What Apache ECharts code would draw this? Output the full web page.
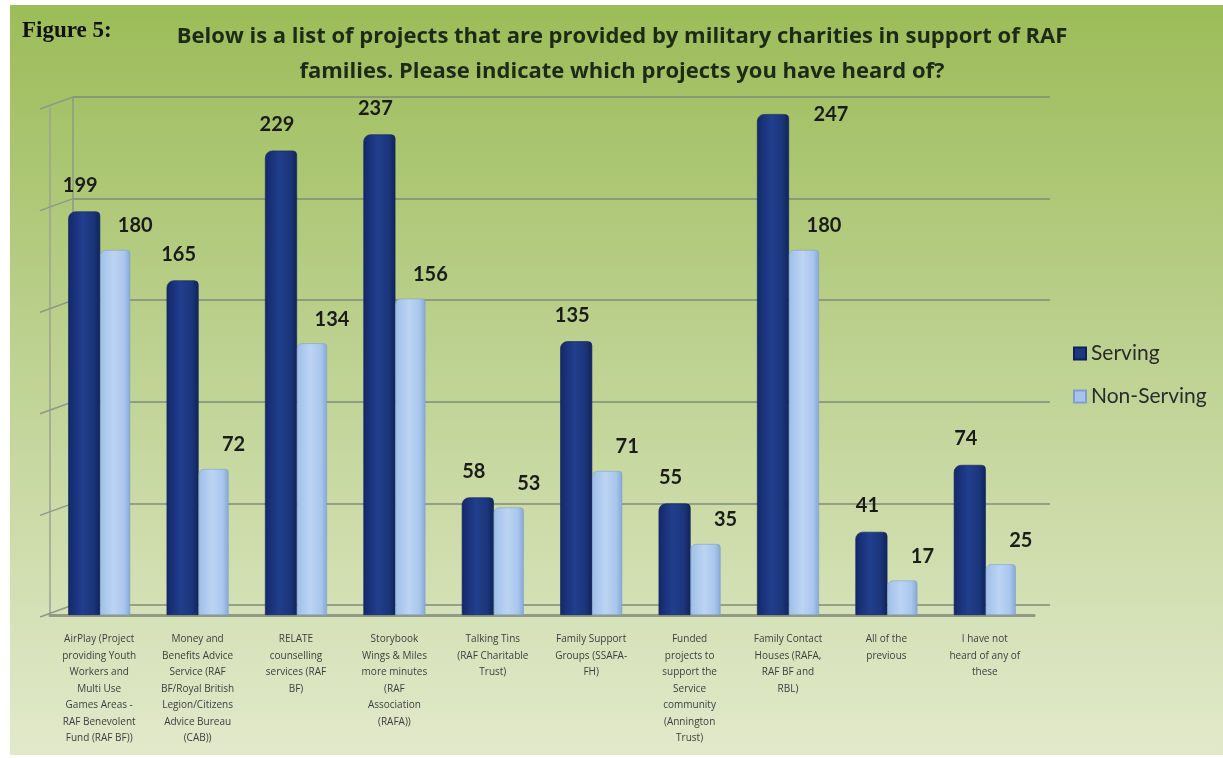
<!DOCTYPE html>
<html>
<head>
<meta charset="utf-8">
<script src="https://cdn.jsdelivr.net/npm/echarts@6/dist/echarts.min.js"></script>
<style>
  html, body { margin: 0; padding: 0; background: #ffffff; }
  #chart { width: 1223px; height: 758px; }
</style>
</head>
<body>
<div id="chart"></div>
<script>
// Awareness of military charity projects, Serving vs Non-Serving RAF families
const categories = [
  'AirPlay (Project\nproviding Youth\nWorkers and\nMulti Use\nGames Areas -\nRAF Benevolent\nFund (RAF BF))',
  'Money and\nBenefits Advice\nService (RAF\nBF/Royal British\nLegion/Citizens\nAdvice Bureau\n(CAB))',
  'RELATE\ncounselling\nservices (RAF\nBF)',
  'Storybook\nWings & Miles\nmore minutes\n(RAF\nAssociation\n(RAFA))',
  'Talking Tins\n(RAF Charitable\nTrust)',
  'Family Support\nGroups (SSAFA-\nFH)',
  'Funded\nprojects to\nsupport the\nService\ncommunity\n(Annington\nTrust)',
  'Family Contact\nHouses (RAFA,\nRAF BF and\nRBL)',
  'All of the\nprevious',
  'I have not\nheard of any of\nthese'
];
const serving = [199, 165, 229, 237, 58, 135, 55, 247, 41, 74];
const nonServing = [180, 72, 134, 156, 53, 71, 35, 180, 17, 25];
const valueTicks = [0, 50, 100, 150, 200, 250];

const chart = echarts.init(document.getElementById('chart'));
const G = echarts.graphic;

const darkFill = new G.LinearGradient(0, 0, 1, 0, [
  { offset: 0, color: '#14286a' },
  { offset: 0.45, color: '#213f8e' },
  { offset: 0.8, color: '#1b3579' },
  { offset: 1, color: '#10245c' }
]);
const lightFill = new G.LinearGradient(0, 0, 1, 0, [
  { offset: 0, color: '#9fbfe8' },
  { offset: 0.45, color: '#bcd4f3' },
  { offset: 0.8, color: '#a9c6ec' },
  { offset: 1, color: '#86a8d6' }
]);

const labelFont = { fontFamily: 'Lato, "Open Sans", sans-serif', fontWeight: 'bold', fontSize: 20, color: '#1b1b1b' };

// The tallest Serving bar carries its value beside its top, to the right
const tallest = serving.indexOf(Math.max(...serving));
const servingData = serving.map((v, i) => i === tallest
  ? { value: v, label: { offset: [58, 26] } }
  : v);

const option = {
  animation: false,
  graphic: [
    {
      type: 'rect', z: -10, silent: true,
      shape: { x: 10, y: 5, width: 1213, height: 750 },
      style: {
        fill: new G.LinearGradient(0, 0, 0, 1, [
          { offset: 0, color: '#9cbc58' },
          { offset: 0.45, color: '#bcd18f' },
          { offset: 1, color: '#e2e9cb' }
        ])
      }
    },
    {
      type: 'text', x: 22, y: 20,
      style: { text: 'Figure 5:', font: 'bold 23px "Liberation Serif", serif', fill: '#111111' }
    },
    {
      type: 'text', x: 622, y: 19, z: 10,
      style: {
        text: 'Below is a list of projects that are provided by military charities in support of RAF\nfamilies. Please indicate which projects you have heard of?',
        font: 'bold 22px "Open Sans", Lato, sans-serif',
        fill: '#1e2a18', align: 'center', lineHeight: 35
      }
    }
  ],
  legend: {
    orient: 'vertical',
    left: 1068, top: 338,
    itemWidth: 12, itemHeight: 12, itemGap: 22,
    icon: 'rect',
    textStyle: { fontFamily: 'Lato, "Open Sans", sans-serif', fontSize: 21, color: '#2b2b2b' },
    data: [
      { name: 'Serving', itemStyle: { color: '#1d3782' } },
      { name: 'Non-Serving', itemStyle: { color: '#a7c4ec' } }
    ]
  },
  grid: [
    // front plane carrying the bars
    { left: 50, right: 189, top: 108, bottom: 143 },
    // back wall carrying the gridlines
    { left: 73, right: 173, top: 97, bottom: 153 }
  ],
  xAxis: [
    {
      type: 'category', gridIndex: 0, data: categories,
      axisLine: { show: true, lineStyle: { color: '#8f9a88', width: 3 } },
      axisTick: { show: false },
      axisLabel: {
        interval: 0, margin: 16, fontSize: 10, lineHeight: 16.5,
        fontFamily: '"Open Sans", sans-serif', color: '#3d3d3d', align: 'center'
      }
    },
    {
      type: 'category', gridIndex: 1, data: categories,
      axisLine: { show: false }, axisTick: { show: false }, axisLabel: { show: false }
    }
  ],
  yAxis: [
    {
      type: 'value', gridIndex: 0, min: 0, max: 250, interval: 50,
      axisLine: { show: true, lineStyle: { color: '#9aa394', width: 1.5 } },
      axisLabel: { show: false }, axisTick: { show: false },
      splitLine: { show: false }
    },
    {
      type: 'value', gridIndex: 1, min: 0, max: 250, interval: 50,
      axisLine: { show: true, lineStyle: { color: '#8c9a86', width: 1.5 } },
      axisLabel: { show: false }, axisTick: { show: false },
      splitLine: { show: true, lineStyle: { color: '#7f8c78', width: 1.5 } }
    }
  ],
  series: [
    {
      // side wall: diagonals joining the front edge to each back-wall gridline
      type: 'custom', xAxisIndex: 1, yAxisIndex: 1, silent: true, z: 1,
      data: valueTicks,
      renderItem: function (params, api) {
        const p = api.coord([0, api.value(0)]);
        const x0 = params.coordSys.x;
        return {
          type: 'line',
          shape: { x1: x0 - 33, y1: p[1] + 12, x2: x0, y2: p[1] },
          style: { stroke: '#8c9a86', lineWidth: 1.5 }
        };
      },
      encode: { y: 0 }
    },
    {
      name: 'Serving', type: 'bar', xAxisIndex: 0, yAxisIndex: 0, z: 3,
      data: servingData,
      barWidth: 32, barGap: '0%',
      itemStyle: { color: darkFill, borderRadius: [7, 4, 0, 0], borderColor: '#0f2256', borderWidth: 0.6 },
      label: Object.assign({ show: true, position: 'top', distance: 16, offset: [-4, 0] }, labelFont)
    },
    {
      name: 'Non-Serving', type: 'bar', xAxisIndex: 0, yAxisIndex: 0, z: 3,
      data: nonServing,
      barWidth: 30,
      itemStyle: { color: lightFill, borderRadius: [5, 3, 0, 0], borderColor: '#7f9fcf', borderWidth: 0.6 },
      label: Object.assign({ show: true, position: 'top', distance: 14, offset: [20, 0] }, labelFont)
    }
  ]
};

chart.setOption(option);
</script>
</body>
</html>
